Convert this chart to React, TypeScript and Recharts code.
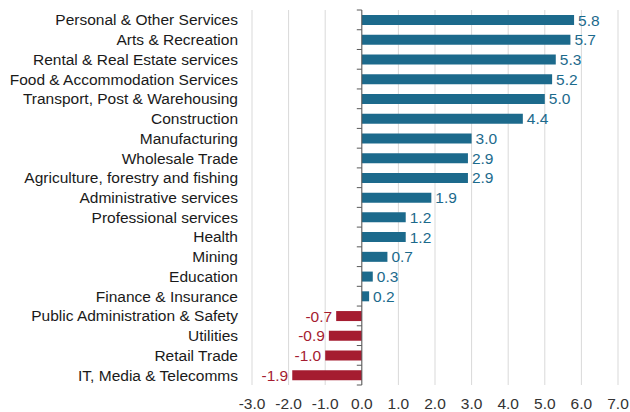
import React from 'react';
import { BarChart, Bar, XAxis, YAxis, CartesianGrid, Cell, LabelList, ReferenceLine } from 'recharts';

const categories = [
  'Personal & Other Services',
  'Arts & Recreation',
  'Rental & Real Estate services',
  'Food & Accommodation Services',
  'Transport, Post & Warehousing',
  'Construction',
  'Manufacturing',
  'Wholesale Trade',
  'Agriculture, forestry and fishing',
  'Administrative services',
  'Professional services',
  'Health',
  'Mining',
  'Education',
  'Finance & Insurance',
  'Public Administration & Safety',
  'Utilities',
  'Retail Trade',
  'IT, Media & Telecomms',
];

const values = [5.8, 5.7, 5.3, 5.2, 5.0, 4.4, 3.0, 2.9, 2.9, 1.9, 1.2, 1.2, 0.7, 0.3, 0.2, -0.7, -0.9, -1.0, -1.9];

const xTicks = [-3, -2, -1, 0, 1, 2, 3, 4, 5, 6, 7];

const POS = '#1C6A8C';
const NEG = '#A51C30';
const FONT = '"Liberation Sans", Arial, sans-serif';
const FS = 15.5;

const data = categories.map((name, i) => ({ name, value: values[i] }));

const ValueLabel = (props: any) => {
  const { x, y, width, height, value } = props;
  const left = Math.min(x, x + width);
  const right = Math.max(x, x + width);
  const pos = value >= 0;
  return (
    <text
      x={pos ? right + 4 : left - 4}
      y={y + height / 2}
      dy={5.5}
      textAnchor={pos ? 'start' : 'end'}
      fill={pos ? POS : NEG}
      fontSize={FS}
      fontFamily={FONT}
    >
      {Number(value).toFixed(1)}
    </text>
  );
};

const AxisWithTicks = (props: any) => {
  const { x1, y1, x2, y2 } = props;
  const top = Math.min(y1, y2);
  const bottom = Math.max(y1, y2);
  const n = categories.length;
  const step = (bottom - top) / n;
  const marks = [];
  for (let i = 0; i <= n; i++) {
    const yy = top + i * step;
    marks.push(<line key={i} x1={x1 - 5} x2={x1} y1={yy} y2={yy} stroke="#595959" strokeWidth={1} />);
  }
  return (
    <g>
      <line x1={x1} x2={x2} y1={y1} y2={y2} stroke="#595959" strokeWidth={1} />
      {marks}
    </g>
  );
};

export default function App() {
  return (
    <div style={{ position: 'absolute', left: 0, top: 0, background: '#fff' }}>
      <BarChart
        width={630}
        height={412}
        data={data}
        layout="vertical"
        margin={{ top: 10, right: 12, bottom: 0, left: 0 }}
      >
        <CartesianGrid horizontal={false} stroke="#d9d9d9" />
        <XAxis
          type="number"
          domain={[-3, 7]}
          ticks={xTicks}
          tickFormatter={(v: number) => v.toFixed(1)}
          axisLine={false}
          tickLine={false}
          height={27}
          tickMargin={7}
          tick={{ fontSize: FS, fill: '#333333', fontFamily: FONT }}
          interval={0}
        />
        <YAxis
          type="category"
          dataKey="name"
          width={252}
          axisLine={false}
          tickLine={false}
          tickMargin={8}
          interval={0}
          tick={{ fontSize: FS, fill: '#1a1a1a', fontFamily: FONT }}
        />
        <Bar dataKey="value" barSize={10} isAnimationActive={false}>
          {data.map((d, i) => (
            <Cell key={i} fill={d.value >= 0 ? POS : NEG} />
          ))}
          <LabelList dataKey="value" content={ValueLabel} />
        </Bar>
        <ReferenceLine x={0} shape={AxisWithTicks} />
      </BarChart>
    </div>
  );
}
